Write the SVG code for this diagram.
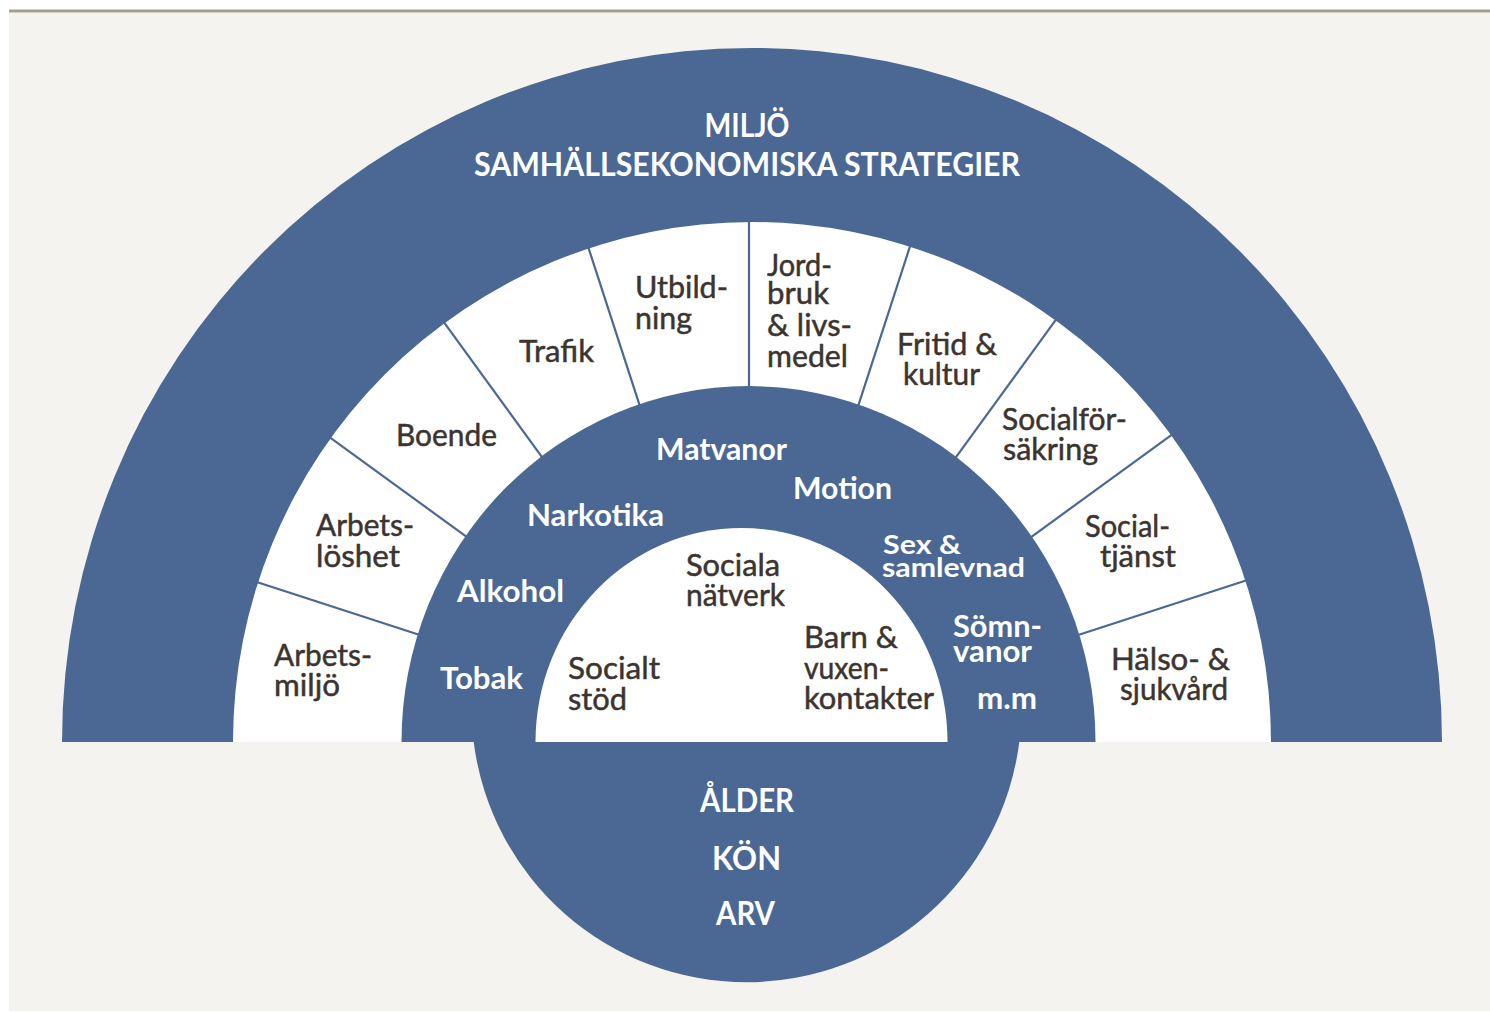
<svg xmlns="http://www.w3.org/2000/svg" width="1490" height="1013" viewBox="0 0 1490 1013">
<style>
.blue{fill:#4a6893}
.white{fill:#ffffff}
.div{stroke:#4a6893;stroke-width:2.2;fill:none}
.dk{font-family:Lato,"Liberation Sans",sans-serif;font-size:31px;fill:#3b342f;stroke:#3b342f;stroke-width:0.5;font-weight:400}
.wt{font-family:Lato,"Liberation Sans",sans-serif;font-size:30px;fill:#ffffff;font-weight:700}
.tight{font-size:27px}
.cap{font-family:Lato,"Liberation Sans",sans-serif;font-size:32px;fill:#ffffff;font-weight:700;text-anchor:middle}
</style>
<rect x="0" y="0" width="1490" height="1013" fill="#ffffff"/>
<rect x="9" y="13" width="1481" height="998" fill="#f4f3ef"/>
<line x1="9" y1="11" x2="1490" y2="11" stroke="#a89c90" stroke-width="3"/>

<g id="ring-outer">
<path class="blue" d="M62 742 A690 694 0 0 1 1442 742 Z"/>
<text class="cap" x="747" y="137" textLength="85" lengthAdjust="spacingAndGlyphs">MILJÖ</text>
<text class="cap" x="747" y="176" textLength="546" lengthAdjust="spacingAndGlyphs">SAMHÄLLSEKONOMISKA STRATEGIER</text>
</g>

<g id="ring-living">
<path class="white" d="M233 742 A519 520 0 0 1 1271 742 Z"/>
</g>

<g id="connectors">
<line class="div" x1="249.7" y1="579.8" x2="463.7" y2="649.3"/>
<line class="div" x1="324.3" y1="433.4" x2="506.3" y2="565.7"/>
<line class="div" x1="440.4" y1="317.3" x2="572.7" y2="499.3"/>
<line class="div" x1="586.8" y1="242.7" x2="656.3" y2="456.7"/>
<line class="div" x1="749" y1="217" x2="749" y2="442"/>
<line class="div" x1="911.2" y1="242.7" x2="841.7" y2="456.7"/>
<line class="div" x1="1057.6" y1="317.3" x2="925.3" y2="499.3"/>
<line class="div" x1="1173.7" y1="433.4" x2="991.7" y2="565.7"/>
<line class="div" x1="1248.3" y1="579.8" x2="1034.3" y2="649.3"/>
</g>

<g id="sector-arbetsmiljo">
<text class="dk" x="274" y="666" textLength="98" lengthAdjust="spacingAndGlyphs">Arbets-</text>
<text class="dk" x="274" y="696" textLength="66" lengthAdjust="spacingAndGlyphs">miljö</text>
</g>
<g id="sector-arbetsloshet">
<text class="dk" x="316" y="536" textLength="98" lengthAdjust="spacingAndGlyphs">Arbets-</text>
<text class="dk" x="316" y="567" textLength="84" lengthAdjust="spacingAndGlyphs">löshet</text>
</g>
<g id="sector-boende">
<text class="dk" x="396" y="446" textLength="101" lengthAdjust="spacingAndGlyphs">Boende</text>
</g>
<g id="sector-trafik">
<text class="dk" x="519" y="362" textLength="75" lengthAdjust="spacingAndGlyphs">Trafik</text>
</g>
<g id="sector-utbildning">
<text class="dk" x="635" y="298" textLength="93" lengthAdjust="spacingAndGlyphs">Utbild-</text>
<text class="dk" x="635" y="329" textLength="57" lengthAdjust="spacingAndGlyphs">ning</text>
</g>
<g id="sector-jordbruk">
<text class="dk" x="767" y="276" textLength="65" lengthAdjust="spacingAndGlyphs" font-size="29">Jord-</text>
<text class="dk" x="767" y="304" textLength="62" lengthAdjust="spacingAndGlyphs" font-size="29">bruk</text>
<text class="dk" x="767" y="336" textLength="85" lengthAdjust="spacingAndGlyphs">&amp; livs-</text>
<text class="dk" x="767" y="367" textLength="81" lengthAdjust="spacingAndGlyphs">medel</text>
</g>
<g id="sector-fritid">
<text class="dk" x="897" y="355" textLength="100" lengthAdjust="spacingAndGlyphs">Fritid &amp;</text>
<text class="dk" x="903" y="385" textLength="77" lengthAdjust="spacingAndGlyphs">kultur</text>
</g>
<g id="sector-socialforsakring">
<text class="dk" x="1002" y="430" textLength="125" lengthAdjust="spacingAndGlyphs">Socialför-</text>
<text class="dk" x="1003" y="460" textLength="95" lengthAdjust="spacingAndGlyphs">säkring</text>
</g>
<g id="sector-socialtjanst">
<text class="dk" x="1085" y="537" textLength="85" lengthAdjust="spacingAndGlyphs">Social-</text>
<text class="dk" x="1100" y="567" textLength="76" lengthAdjust="spacingAndGlyphs">tjänst</text>
</g>
<g id="sector-halso">
<text class="dk" x="1111" y="670" textLength="119" lengthAdjust="spacingAndGlyphs">Hälso- &amp;</text>
<text class="dk" x="1120" y="700" textLength="108" lengthAdjust="spacingAndGlyphs">sjukvård</text>
</g>

<g id="ring-lifestyle">
<path class="blue" d="M401.5 742 A347 356 0 0 1 1095.5 742 Z"/>
<text class="wt" x="656" y="460" textLength="131" lengthAdjust="spacingAndGlyphs">Matvanor</text>
<text class="wt" x="793" y="499" textLength="99" lengthAdjust="spacingAndGlyphs">Motion</text>
<text class="wt" x="527" y="526" textLength="137" lengthAdjust="spacingAndGlyphs">Narkotika</text>
<text class="wt" x="457" y="602" textLength="107" lengthAdjust="spacingAndGlyphs">Alkohol</text>
<text class="wt" x="440" y="689" textLength="83" lengthAdjust="spacingAndGlyphs">Tobak</text>
<text class="wt tight" x="883" y="554" textLength="78" lengthAdjust="spacingAndGlyphs">Sex &amp;</text>
<text class="wt tight" x="882" y="577" textLength="143" lengthAdjust="spacingAndGlyphs">samlevnad</text>
<text class="wt" x="953" y="637" textLength="89" lengthAdjust="spacingAndGlyphs" font-size="28">Sömn-</text>
<text class="wt" x="953" y="662" textLength="79" lengthAdjust="spacingAndGlyphs" font-size="28">vanor</text>
<text class="wt" x="977" y="709" textLength="60" lengthAdjust="spacingAndGlyphs">m.m</text>
</g>

<g id="core">
<path class="blue" d="M473.7 742 A275 275 0 0 0 1019.3 742 Z"/>
<text class="cap" x="747" y="812" textLength="94" lengthAdjust="spacingAndGlyphs">ÅLDER</text>
<text class="cap" x="746.5" y="870" textLength="69" lengthAdjust="spacingAndGlyphs">KÖN</text>
<text class="cap" x="745.5" y="925" textLength="59" lengthAdjust="spacingAndGlyphs">ARV</text>
</g>

<g id="ring-social">
<path class="white" d="M535.5 742 A206 214 0 0 1 947.5 742 Z"/>
<text class="dk" x="686" y="576" textLength="94" lengthAdjust="spacingAndGlyphs">Sociala</text>
<text class="dk" x="686" y="606" textLength="99" lengthAdjust="spacingAndGlyphs">nätverk</text>
<text class="dk" x="568" y="679" textLength="92" lengthAdjust="spacingAndGlyphs">Socialt</text>
<text class="dk" x="568" y="710" textLength="59" lengthAdjust="spacingAndGlyphs">stöd</text>
<text class="dk" x="804" y="648" textLength="94" lengthAdjust="spacingAndGlyphs">Barn &amp;</text>
<text class="dk" x="804" y="679" textLength="85" lengthAdjust="spacingAndGlyphs">vuxen-</text>
<text class="dk" x="804" y="709" textLength="130" lengthAdjust="spacingAndGlyphs">kontakter</text>
</g>
</svg>
